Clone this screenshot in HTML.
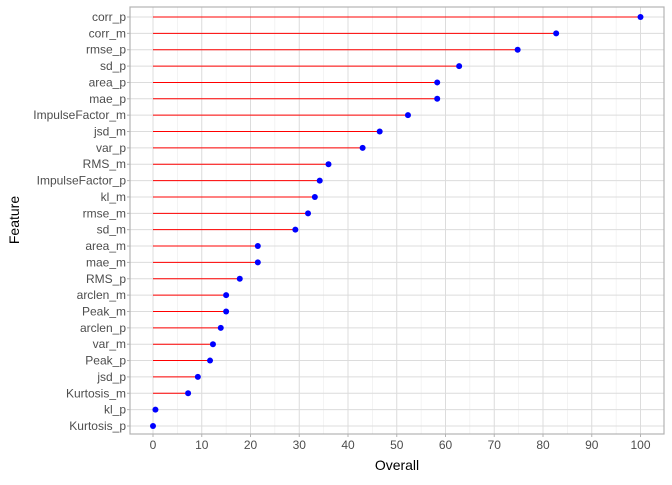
<!DOCTYPE html>
<html><head><meta charset="utf-8"><style>
body{margin:0;background:#fff;font-family:"Liberation Sans",sans-serif}
</style></head><body>
<svg id="c" width="672" height="480" xmlns="http://www.w3.org/2000/svg"></svg>
<script>
const features=["corr_p","corr_m","rmse_p","sd_p","area_p","mae_p","ImpulseFactor_m","jsd_m","var_p","RMS_m","ImpulseFactor_p","kl_m","rmse_m","sd_m","area_m","mae_m","RMS_p","arclen_m","Peak_m","arclen_p","var_m","Peak_p","jsd_p","Kurtosis_m","kl_p","Kurtosis_p"];
const values=[100,82.7,74.8,62.8,58.3,58.3,52.3,46.5,43,36,34.2,33.2,31.8,29.2,21.5,21.5,17.8,15,15,13.9,12.3,11.7,9.2,7.2,0.5,0];
const xTicks=[0,10,20,30,40,50,60,70,80,90,100];
const NS="http://www.w3.org/2000/svg",svg=document.getElementById('c');
const L=130,R=664,T=7,B=434;
const x=v=>153+v*4.875;
const n=features.length;
const y=i=>17+i*(409/(n-1));
function mk(t,a,p){const e=document.createElementNS(NS,t);for(const k in a)e.setAttribute(k,a[k]);(p||svg).appendChild(e);return e;}
const grid=mk('g',{});


for(let v=-5;v<=105;v+=5){const px=x(v);if(px<L||px>R)continue;mk('line',{x1:px,x2:px,y1:T,y2:B,stroke:v%10===0?'#dcdcdc':'#ececec','stroke-width':v%10===0?1:0.6},grid);}
features.forEach((f,i)=>mk('line',{x1:L,x2:R,y1:y(i),y2:y(i),stroke:'#dcdcdc','stroke-width':1},grid));
const border=mk('rect',{x:L,y:T,width:R-L,height:B-T,fill:'none',stroke:'#b3b3b3','stroke-width':1.2});


features.forEach((f,i)=>{
 const ln=mk('line',{x1:x(0),x2:x(values[i]),y1:y(i),y2:y(i),stroke:'#ff0000','stroke-width':1});
 
 
 const c=mk('circle',{cx:x(values[i]),cy:y(i),r:3,fill:'#0000ff'});
 
 
 const t=mk('text',{x:L-4,y:y(i)+4,'text-anchor':'end','font-size':12,fill:'#4d4d4d'});
 t.textContent=f;
 
 
 mk('line',{x1:L-3,x2:L,y1:y(i),y2:y(i),stroke:'#b3b3b3'});
});
xTicks.forEach(v=>{
 mk('line',{x1:x(v),x2:x(v),y1:B,y2:B+3,stroke:'#b3b3b3'});
 const t=mk('text',{x:x(v),y:B+15,'text-anchor':'middle','font-size':12,fill:'#4d4d4d'});
 t.textContent=v;
 
 
});
const xt=mk('text',{x:(L+R)/2,y:470,'text-anchor':'middle','font-size':14,fill:'#000'});
xt.textContent='Overall';


const yt=mk('text',{x:0,y:0,transform:'translate(19,220) rotate(-90)','text-anchor':'middle','font-size':14,fill:'#000'});
yt.textContent='Feature';


</script>
</body></html>
